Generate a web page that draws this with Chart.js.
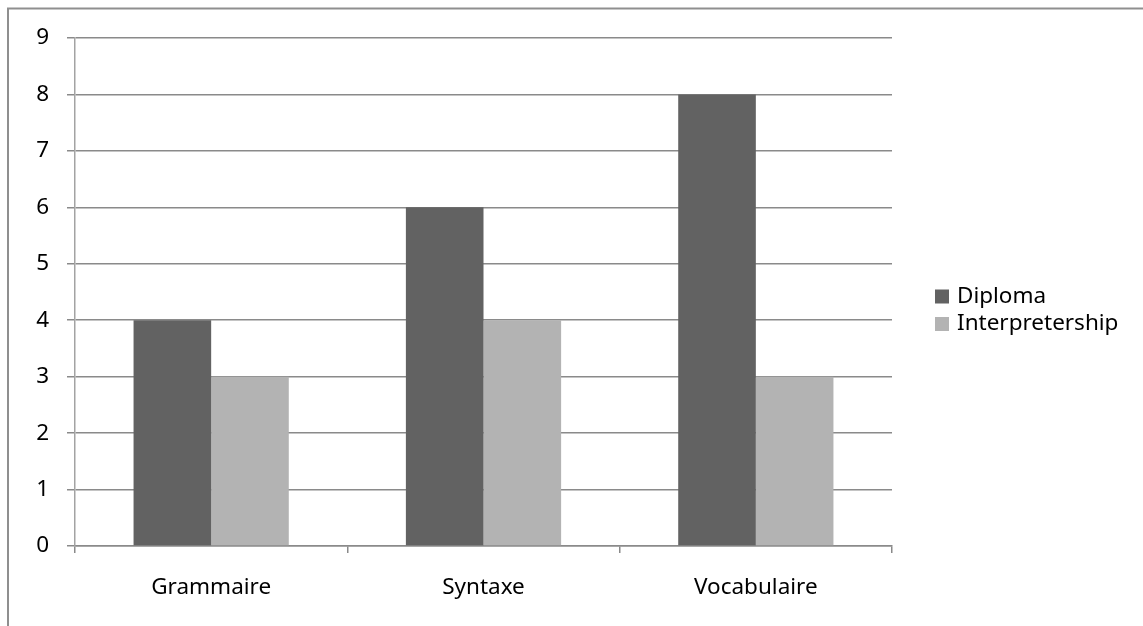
<!DOCTYPE html>
<html>
<head>
<meta charset="utf-8">
<title>Diploma vs Interpretership</title>
<script src="https://cdn.jsdelivr.net/npm/chart.js@4/dist/chart.umd.min.js"></script>
<style>
  html, body { margin: 0; padding: 0; background: #ffffff; }
  #wrap { width: 1143px; height: 626px; }
</style>
</head>
<body>
<div id="wrap"><canvas id="chart" width="1143" height="626"></canvas></div>
<script>
// Categories and series values
const categories = ['Grammaire', 'Syntaxe', 'Vocabulaire'];
const seriesNames = ['Diploma', 'Interpretership'];
const diplomaValues = [4, 6, 8];
const interpretershipValues = [3, 4, 3];
const yMin = 0;
const yMax = 9;
const yStep = 1;

const FONT = '"Noto Sans", "Open Sans", sans-serif';
const TEXT_SIZE = 22.5;
const GRID = '#8a8a8a';

// White background plus the thin grey frame along the top and left edges
const framePlugin = {
  id: 'frame',
  beforeDraw(chart) {
    const ctx = chart.ctx;
    ctx.save();
    ctx.fillStyle = '#ffffff';
    ctx.fillRect(0, 0, chart.width, chart.height);
    ctx.strokeStyle = '#8f8f8f';
    ctx.lineWidth = 2;
    ctx.beginPath();
    ctx.moveTo(8, chart.height);
    ctx.lineTo(8, 8.5);
    ctx.lineTo(chart.width, 8.5);
    ctx.stroke();
    ctx.restore();
  }
};

// Legend on the right, drawn from the dataset labels and colours
const sideLegend = {
  id: 'sideLegend',
  afterDraw(chart) {
    const ctx = chart.ctx;
    const x0 = 935, box = 14, textX = 957;
    const rows = [296.5, 324];
    ctx.save();
    ctx.font = TEXT_SIZE + 'px ' + FONT;
    ctx.textBaseline = 'middle';
    ctx.textAlign = 'left';
    chart.data.datasets.forEach((ds, i) => {
      const cy = rows[i];
      ctx.fillStyle = ds.backgroundColor;
      ctx.fillRect(x0, cy - box / 2, box, box);
      ctx.fillStyle = '#000000';
      ctx.fillText(ds.label, textX, cy);
    });
    ctx.restore();
  }
};

new Chart(document.getElementById('chart'), {
  type: 'bar',
  data: {
    labels: categories,
    datasets: [
      { label: seriesNames[0], data: diplomaValues, backgroundColor: '#626262', borderWidth: 0 },
      { label: seriesNames[1], data: interpretershipValues, backgroundColor: '#b3b3b3', borderWidth: 0 }
    ]
  },
  options: {
    responsive: false,
    animation: false,
    devicePixelRatio: 1,
    layout: { padding: { top: 38, right: 251, left: 0, bottom: 0 } },
    datasets: { bar: { categoryPercentage: 0.57, barPercentage: 1.0 } },
    plugins: {
      legend: { display: false },
      tooltip: { enabled: false }
    },
    scales: {
      x: {
        grid: { display: true, offset: true, drawOnChartArea: false, drawTicks: true, tickLength: 7, color: GRID, lineWidth: 1.5 },
        border: { display: true, color: GRID, width: 1.5 },
        ticks: { color: '#000000', padding: 21, font: { family: FONT, size: TEXT_SIZE } },
        afterFit(scale) { scale.height = 80; }
      },
      y: {
        min: yMin,
        max: yMax,
        grid: { color: GRID, lineWidth: 1.5, tickLength: 8, drawTicks: true },
        border: { display: true, color: '#a3a3a3', width: 1.5 },
        ticks: { stepSize: yStep, color: '#000000', padding: 18, font: { family: FONT, size: TEXT_SIZE } },
        afterFit(scale) { scale.width = 75; }
      }
    }
  },
  plugins: [framePlugin, sideLegend]
});
</script>
</body>
</html>
